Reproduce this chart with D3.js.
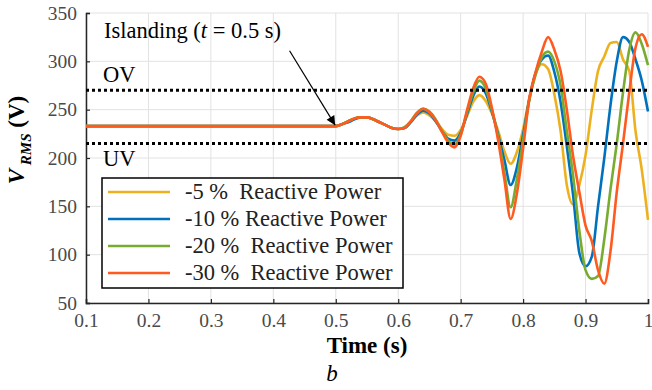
<!DOCTYPE html>
<html>
<head>
<meta charset="utf-8">
<script src="https://cdn.jsdelivr.net/npm/d3@7"></script>
<style>
  body { margin: 0; background: #fff; }
  svg { display: block; }
  svg text { font-family: 'Liberation Serif', 'DejaVu Serif', 'Noto Serif', serif; white-space: pre; }
</style>
</head>
<body>
<svg width="652" height="390"></svg>
<script>
// time axis (s) shared by all series
var timeS = [0.1, 0.5, 0.51, 0.52, 0.53, 0.54, 0.55, 0.56, 0.57, 0.58, 0.59,
  0.60, 0.61, 0.62, 0.63, 0.64, 0.65, 0.66, 0.67, 0.68, 0.69,
  0.70, 0.71, 0.72, 0.73, 0.74, 0.75, 0.76, 0.77, 0.78, 0.79,
  0.80, 0.81, 0.82, 0.83, 0.84, 0.85, 0.86, 0.87, 0.88, 0.89,
  0.90, 0.91, 0.92, 0.93, 0.94, 0.95, 0.96, 0.97, 0.98, 0.99, 1.00];

// V_RMS for each reactive power setting
var vMinus5 = [233, 233, 235, 238, 241, 242, 242, 240, 237, 234, 231,
  230, 231, 237, 244, 247, 244, 238, 230, 224, 223,
  229, 243, 258, 265, 259, 246, 228, 207, 194, 206,
  230, 262, 287, 297, 292, 266, 228, 172, 152, 172,
  203, 250, 290, 305, 319, 320, 302, 290, 228, 188, 136];
var vMinus10 = [233, 233, 235, 237, 240, 242, 242, 240, 237, 234, 231,
  230, 231, 237, 245, 249, 246, 238, 228, 220, 218,
  226, 245, 264, 274, 267, 248, 224, 198, 172, 190,
  224, 261, 288, 302, 306, 289, 258, 212, 162, 102,
  88, 98, 150, 200, 255, 300, 325, 320, 302, 280, 248];
var vMinus20 = [233, 233, 235, 238, 241, 242, 242, 240, 237, 234, 231,
  230, 232, 238, 247, 251, 248, 240, 228, 218, 214,
  224, 247, 268, 280, 272, 250, 222, 185, 149, 178,
  218, 260, 286, 304, 310, 300, 275, 228, 182, 125,
  84, 75, 78, 116, 168, 215, 268, 312, 330, 318, 296];
var vMinus30 = [233, 233, 235, 238, 241, 242, 242, 240, 237, 234, 231,
  230, 231, 238, 246, 251, 247, 239, 227, 216, 211,
  223, 249, 272, 284, 277, 252, 218, 178, 137, 163,
  210, 262, 289, 310, 325, 312, 290, 250, 202, 165,
  130, 114, 84, 70, 104, 165, 215, 268, 314, 328, 315];

var seriesNames = ["-5 %  Reactive Power", "-10 % Reactive Power", "-20 %  Reactive Power", "-30 %  Reactive Power"];
var seriesColors = ["#edb120", "#0072bd", "#77ac30", "#ff5a1f"];

var xTicks = [0.1, 0.2, 0.3, 0.4, 0.5, 0.6, 0.7, 0.8, 0.9, 1];
var yTicks = [50, 100, 150, 200, 250, 300, 350];
var ovLevel = 270, uvLevel = 215;

var serif = "'Liberation Serif', 'DejaVu Serif', 'Noto Serif', serif";

var svg = d3.select("svg");
var margin = {top: 13, right: 4, bottom: 87, left: 86};
var plotWidth = 652 - margin.left - margin.right;
var plotHeight = 390 - margin.top - margin.bottom;

var plot = svg.append("g")
  .attr("transform", "translate(" + margin.left + "," + margin.top + ")");

var xScale = d3.scaleLinear().domain([0.1, 1]).range([0, plotWidth]);
var yScale = d3.scaleLinear().domain([50, 350]).range([plotHeight, 0]);

// grid
plot.append("g").selectAll("line.gx")
  .data(xTicks).enter().append("line")
  .attr("x1", function (d) { return xScale(d); })
  .attr("x2", function (d) { return xScale(d); })
  .attr("y1", 0).attr("y2", plotHeight)
  .attr("stroke", "#e2e2e2").attr("stroke-width", 1);
plot.append("g").selectAll("line.gy")
  .data(yTicks).enter().append("line")
  .attr("x1", 0).attr("x2", plotWidth)
  .attr("y1", function (d) { return yScale(d); })
  .attr("y2", function (d) { return yScale(d); })
  .attr("stroke", "#e2e2e2").attr("stroke-width", 1);

// axes
var xAxis = d3.axisBottom(xScale).tickValues(xTicks).tickSize(-4).tickPadding(10)
  .tickFormat(function (d) { return d === 1 ? "1" : d3.format(".1f")(d); });
var xGroup = plot.append("g").attr("transform", "translate(0," + plotHeight + ")").call(xAxis);
var yAxis = d3.axisLeft(yScale).tickValues(yTicks).tickSize(-4).tickPadding(9);
var yGroup = plot.append("g").call(yAxis);
[xGroup, yGroup].forEach(function (g) {
  g.attr("font-family", null).attr("font-size", null);
  g.select(".domain").attr("stroke", "#262626").attr("stroke-width", 1.5);
  g.selectAll(".tick line").attr("stroke", "#262626").attr("stroke-width", 1.2);
  g.selectAll(".tick text").attr("fill", "#4a4a4a")
    .style("font-size", "19.5px").style("font-family", serif);
});

// curves
var allSeries = [vMinus5, vMinus10, vMinus20, vMinus30];
var line = d3.line()
  .x(function (d, i) { return xScale(timeS[i]); })
  .y(function (d) { return yScale(d); })
  .curve(d3.curveMonotoneX);
plot.append("g").selectAll("path.series")
  .data(allSeries).enter().append("path")
  .attr("class", "series")
  .attr("fill", "none")
  .attr("stroke", function (d, i) { return seriesColors[i]; })
  .attr("stroke-width", 2.6)
  .attr("stroke-linejoin", "round")
  .attr("d", line);

// OV / UV limits
plot.selectAll("line.limit")
  .data([ovLevel, uvLevel]).enter().append("line")
  .attr("class", "limit")
  .attr("x1", 0).attr("x2", plotWidth)
  .attr("y1", function (d) { return yScale(d); })
  .attr("y2", function (d) { return yScale(d); })
  .attr("stroke", "#000").attr("stroke-width", 3)
  .attr("stroke-dasharray", "3,3");

plot.append("text").attr("x", 17).attr("y", yScale(ovLevel) - 8)
  .style("font-size", "22.5px").text("OV");
plot.append("text").attr("x", 17).attr("y", yScale(uvLevel) + 22)
  .style("font-size", "22.5px").text("UV");

// islanding annotation
svg.append("defs").append("marker")
  .attr("id", "head").attr("viewBox", "0 0 10 10")
  .attr("refX", 10).attr("refY", 5)
  .attr("markerWidth", 11).attr("markerHeight", 9)
  .attr("markerUnits", "userSpaceOnUse")
  .attr("orient", "auto")
  .append("path").attr("d", "M0,0 L10,5 L0,10 z").attr("fill", "#000");
plot.append("line")
  .attr("x1", xScale(0.426)).attr("y1", yScale(311))
  .attr("x2", xScale(0.499)).attr("y2", yScale(234))
  .attr("stroke", "#000").attr("stroke-width", 1.2)
  .attr("marker-end", "url(#head)");
var isl = plot.append("text").attr("x", 18).attr("y", 25).style("font-size", "22.5px");
isl.append("tspan").text("Islanding (");
isl.append("tspan").style("font-style", "italic").text("t");
isl.append("tspan").text(" = 0.5 s)");

// legend
var legend = plot.append("g").attr("transform", "translate(16,165)");
legend.append("rect").attr("width", 301).attr("height", 110)
  .attr("fill", "#fff").attr("stroke", "#000").attr("stroke-width", 1.5);
var rows = legend.selectAll("g.row").data(seriesNames).enter().append("g")
  .attr("class", "row")
  .attr("transform", function (d, i) { return "translate(0," + (14 + i * 27) + ")"; });
rows.append("line").attr("x1", 6).attr("x2", 68).attr("y1", 0).attr("y2", 0)
  .attr("stroke", function (d, i) { return seriesColors[i]; }).attr("stroke-width", 2.6);
rows.append("text").attr("x", 83).attr("y", 7).style("font-size", "22.5px")
  .attr("fill", "#222").text(function (d) { return d; });

// axis labels
plot.append("text")
  .attr("x", plotWidth / 2).attr("y", plotHeight + 50)
  .attr("text-anchor", "middle").style("font-size", "23px").style("font-weight", "bold")
  .text("Time (s)");
svg.append("text").attr("x", 332).attr("y", 381).attr("text-anchor", "middle")
  .style("font-size", "23px").style("font-style", "italic").text("b");

var yLabel = svg.append("text")
  .attr("transform", "translate(24,140)rotate(-90)")
  .attr("text-anchor", "middle").style("font-size", "23px").style("font-weight", "bold");
yLabel.append("tspan").style("font-style", "italic").text("V");
yLabel.append("tspan").attr("dy", 7).style("font-size", "15px").style("font-style", "italic").text(" RMS");
yLabel.append("tspan").attr("dy", -7).text(" (V)");
</script>
</body>
</html>
